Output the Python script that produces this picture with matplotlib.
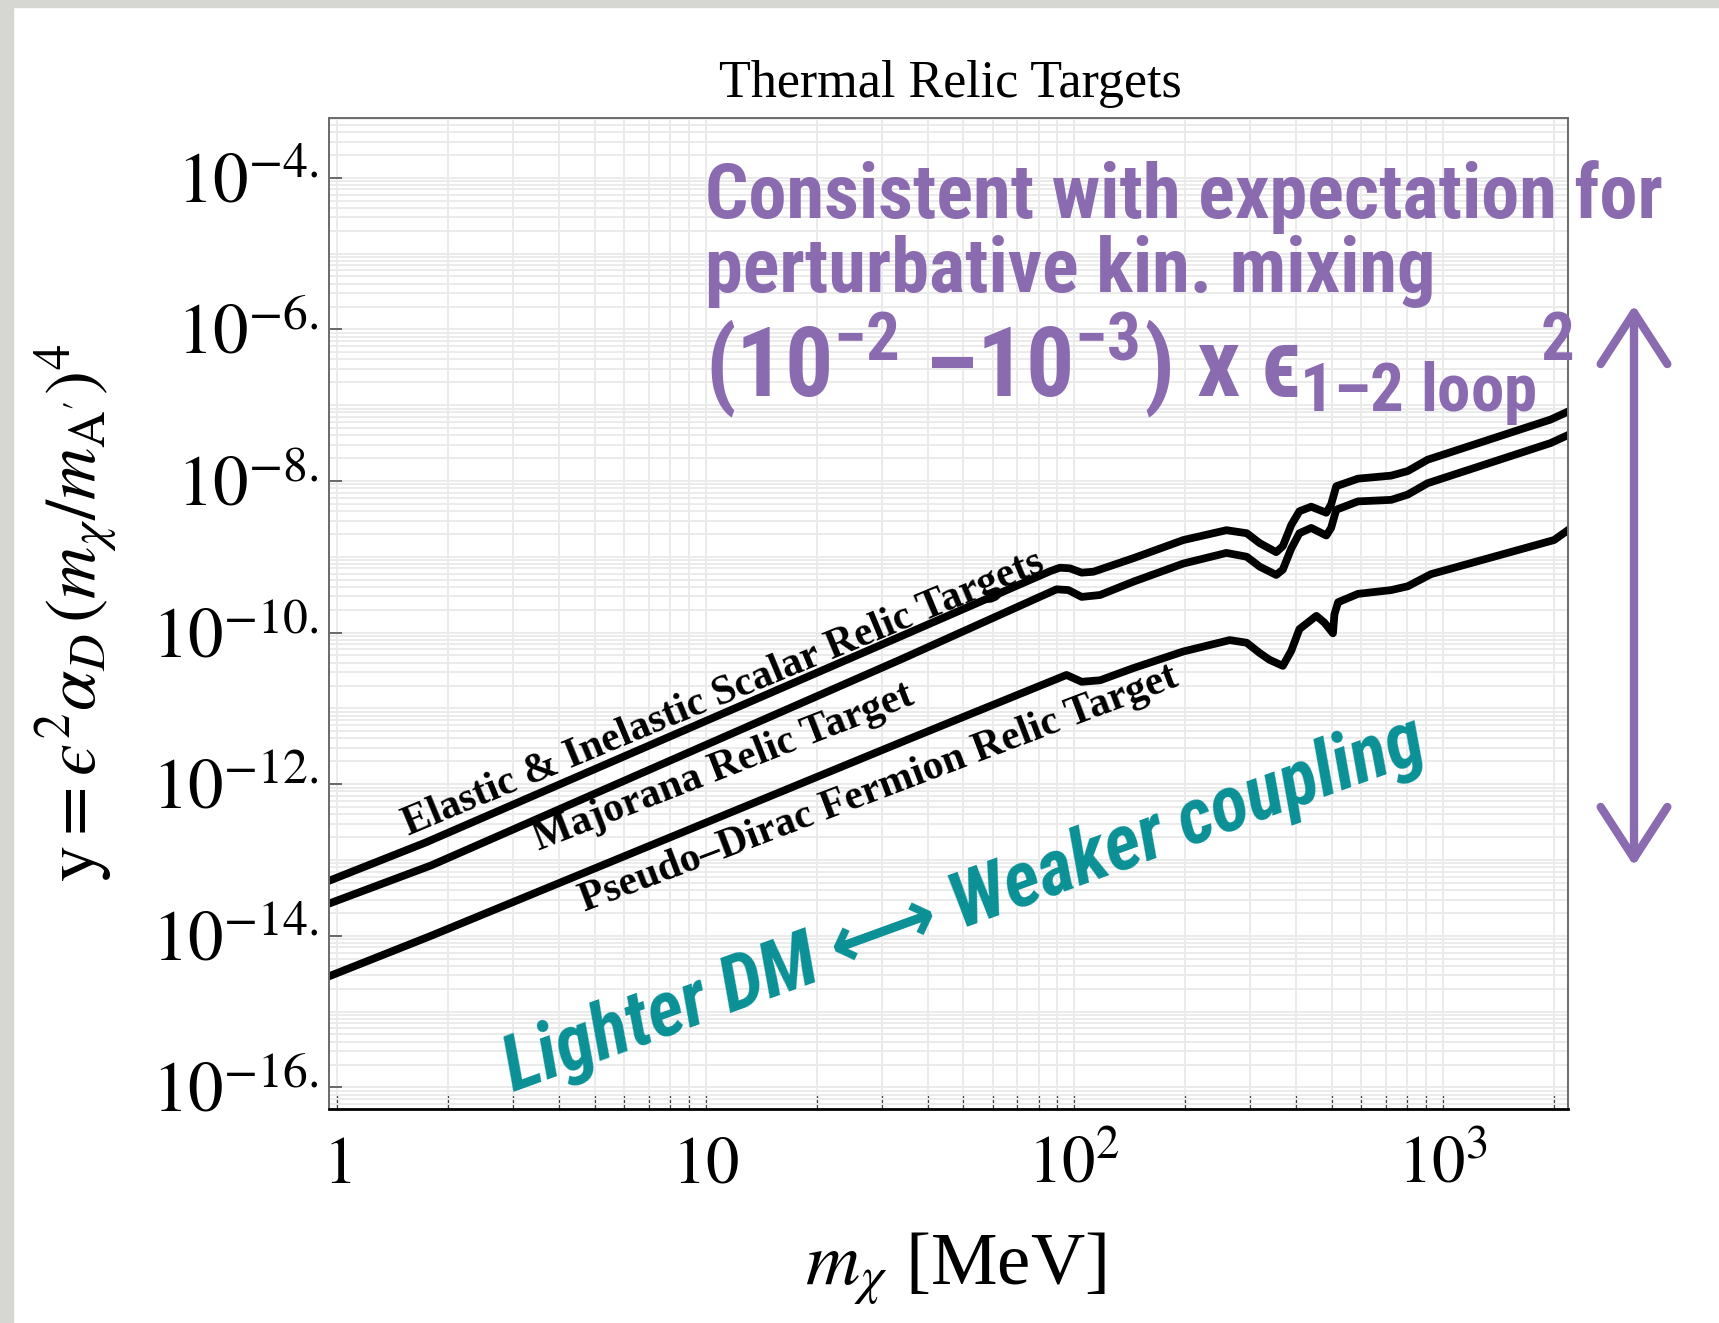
import matplotlib
matplotlib.use("Agg")
import matplotlib.pyplot as plt
import matplotlib.transforms as mtransforms
from matplotlib import font_manager
from matplotlib.patches import Rectangle
from matplotlib.ticker import FixedLocator, LogLocator, NullFormatter
import numpy as np

# curves: log10(m_chi / MeV) and log10(y)
logm_scalar = [-0.03, 0.24, 1.527, 1.935, 1.961, 1.988, 2.020, 2.052, 2.160, 2.296, 2.413, 2.468, 2.503,
               2.548, 2.566, 2.589, 2.611, 2.643, 2.684, 2.697, 2.711, 2.770, 2.860, 2.905, 2.959, 3.293, 3.36]
logy_scalar = [-13.29, -12.77, -10.055, -9.19, -9.145, -9.153, -9.21, -9.198, -9.02, -8.78, -8.65, -8.69, -8.82,
               -8.94, -8.86, -8.58, -8.40, -8.34, -8.42, -8.31, -8.07, -7.97, -7.93, -7.87, -7.72, -7.19, -7.04]

logm_majorana = [-0.03, 0.256, 1.527, 1.952, 1.984, 2.020, 2.070, 2.160, 2.296, 2.413, 2.468, 2.503,
                 2.548, 2.566, 2.589, 2.611, 2.643, 2.684, 2.697, 2.711, 2.770, 2.860, 2.905, 2.959, 3.293, 3.36]
logy_majorana = [-13.59, -13.07, -10.36, -9.43, -9.44, -9.53, -9.505, -9.33, -9.09, -8.95, -9.00, -9.13,
                 -9.24, -9.17, -8.89, -8.69, -8.62, -8.72, -8.62, -8.38, -8.27, -8.25, -8.18, -8.03, -7.50, -7.35]

logm_pdirac = [-0.03, 0.25, 1.554, 1.979, 2.020, 2.070, 2.160, 2.296, 2.422, 2.468, 2.503, 2.530, 2.566,
               2.589, 2.611, 2.657, 2.679, 2.702, 2.706, 2.716, 2.770, 2.860, 2.905, 2.968, 3.302, 3.36]
logy_pdirac = [-14.55, -14.01, -11.40, -10.56, -10.65, -10.63, -10.47, -10.25, -10.10, -10.135, -10.27, -10.36, -10.44,
               -10.24, -9.955, -9.78, -9.87, -10.01, -9.76, -9.60, -9.49, -9.44, -9.39, -9.23, -8.78, -8.58]

xticks = [1, 10, 100, 1000]
xtick_labels = ["$1$", "$10$", "$10^{2}$", "$10^{3}$"]
ytick_exp = [-16, -14, -12, -10, -8, -6, -4]
ytick_labels = ["$10^{%d.}$" % e for e in ytick_exp]

W, H = 1719, 1323
purple = "#8b6bb0"
teal = "#0a9096"
ndash = "\u2013"
lunate = "\u03f5"


def px(x, y):
    # reference pixel -> figure fraction
    return x / W, 1 - y / H


names = {f.name for f in font_manager.fontManager.ttflist}
narrow = next((n for n in ["Liberation Sans Narrow", "Roboto Condensed", "DejaVu Sans Condensed",
                           "Liberation Sans"] if n in names), "DejaVu Sans")

plt.rcParams["font.family"] = "Liberation Serif"
plt.rcParams["mathtext.fontset"] = "stix"
plt.rcParams["mathtext.rm"] = narrow + ":bold"
plt.rcParams["mathtext.it"] = narrow + ":bold"
plt.rcParams["mathtext.bf"] = narrow + ":bold"
plt.rcParams["mathtext.fallback"] = "stixsans"

fig = plt.figure(figsize=(W / 100, H / 100), dpi=100)
ax = fig.add_axes([328.9 / W, 1 - 1109.3 / H, 1238.8 / W, 991 / H])
ax.set_xscale("log")
ax.set_yscale("log")

# slide frame
fig.add_artist(Rectangle((0, 0), 13 / W, 1, transform=fig.transFigure, color="#d6d6d2", zorder=0))
fig.add_artist(Rectangle((0, 1 - 7 / H), 1, 7 / H, transform=fig.transFigure, color="#d6d6d2", zorder=0))

for lm, ly in [(logm_scalar, logy_scalar), (logm_majorana, logy_majorana), (logm_pdirac, logy_pdirac)]:
    ax.plot(10.0 ** np.array(lm), 10.0 ** np.array(ly), color="black", lw=5.6,
            solid_joinstyle="round", solid_capstyle="round")

ax.set_xlim(0.949, 2183)
ax.set_ylim(10 ** -16.29, 10 ** -3.216)

ax.set_xticks(xticks, xtick_labels)
ax.xaxis.set_minor_locator(LogLocator(base=10, subs=np.arange(2, 10), numticks=50))
ax.xaxis.set_minor_formatter(NullFormatter())
ax.yaxis.set_major_locator(FixedLocator(10.0 ** np.array(ytick_exp)))
ax.yaxis.set_minor_locator(LogLocator(base=10, subs=np.arange(1, 10), numticks=50))
ax.yaxis.set_minor_formatter(NullFormatter())
ax.tick_params(axis="y", which="major", labelleft=False, direction="in", length=9.6, width=1.1, color="#444444")
ax.tick_params(axis="y", which="minor", length=0)
ax.tick_params(axis="x", which="both", direction="in", length=11, width=0.9, color="#444444",
               labelsize=48, pad=52.8)
plt.setp(ax.get_xticklabels(), va="baseline")

ax.grid(True, which="both", color="#ebebeb", lw=1.4)
ax.set_axisbelow(True)
for s in ["top", "right", "left"]:
    ax.spines[s].set_color("#6a6a6a")
    ax.spines[s].set_linewidth(1.4)
ax.spines["bottom"].set_color("black")
ax.spines["bottom"].set_linewidth(2)

# y tick labels, baseline of "10" sits a bit below the tick
trans = mtransforms.blended_transform_factory(ax.transAxes, ax.transData) + \
    mtransforms.ScaledTranslation(-10 / 100, -24.5 / 100, fig.dpi_scale_trans)
for e, lab in zip(ytick_exp, ytick_labels):
    ax.text(0, 10.0 ** e, lab, transform=trans, ha="right", va="baseline", fontsize=51, clip_on=False)

fig.text(*px(950, 96.5), "Thermal Relic Targets", ha="center", va="baseline", fontsize=37.5)

ax.set_xlabel(r"$m_\chi$ [MeV]", fontsize=54)
ax.xaxis.set_label_coords(0.5054, -0.1773)
ax.xaxis.label.set_va("baseline")
ax.set_ylabel(r"$\mathrm{y}=" + lunate + r"^{2}\alpha_{D}\,(m_{\chi}/m_{\mathrm{A}^{\prime}})^{4}$", fontsize=52)
ax.yaxis.set_label_coords(-0.2033, 0.5008)
ax.yaxis.label.set_va("center")

# curve labels
lab_kw = dict(rotation_mode="anchor", ha="left", va="baseline", fontsize=30, fontweight="bold")
fig.text(*px(409, 836), "Elastic & Inelastic Scalar Relic Targets", rotation=22.6, **lab_kw)
fig.text(*px(539, 851), "Majorana Relic Target", rotation=21.3, **lab_kw)
fig.text(*px(585, 912), "Pseudo" + ndash + "Dirac Fermion Relic Target", rotation=20.8, **lab_kw)

# purple annotation
renderer = fig.canvas.get_renderer()


def fit_width(t, target):
    w = t.get_window_extent(renderer).width
    t.set_fontsize(t.get_fontsize() * target / w)


pkw = dict(color=purple, family=narrow, weight="bold", ha="left", va="baseline", fontsize=50)
t1 = fig.text(*px(705, 218), "Consistent with expectation for", **pkw)
t2 = fig.text(*px(705, 292), "perturbative kin. mixing", **pkw)
line3 = "(10$^{-2}$ " + ndash + "10$^{-3}$) x $" + lunate + "_{1" + ndash + "2\\ \\mathrm{loop}}{}^{2}$"
t3 = fig.text(*px(705, 397), line3, math_fontfamily="custom", **pkw)
fit_width(t1, 959)
t2.set_fontsize(t1.get_fontsize())
fit_width(t3, 869)

ax.annotate("", xy=(1634, H - 305), xytext=(1634, H - 866), xycoords="figure pixels",
            textcoords="figure pixels", annotation_clip=False,
            arrowprops=dict(arrowstyle="<->,head_length=3.7,head_width=2.4", color=purple, lw=6,
                            shrinkA=0, shrinkB=0, mutation_scale=10))

t4 = fig.text(*px(514, 1092), "Lighter DM \u27f7 Weaker coupling", family=[narrow, "DejaVu Sans"],
              weight="bold", style="italic", color=teal, fontsize=55, ha="left", va="baseline",
              rotation_mode="anchor")
fit_width(t4, 975)
t4.set_rotation(20)

fig.savefig("out.png", dpi=100)
